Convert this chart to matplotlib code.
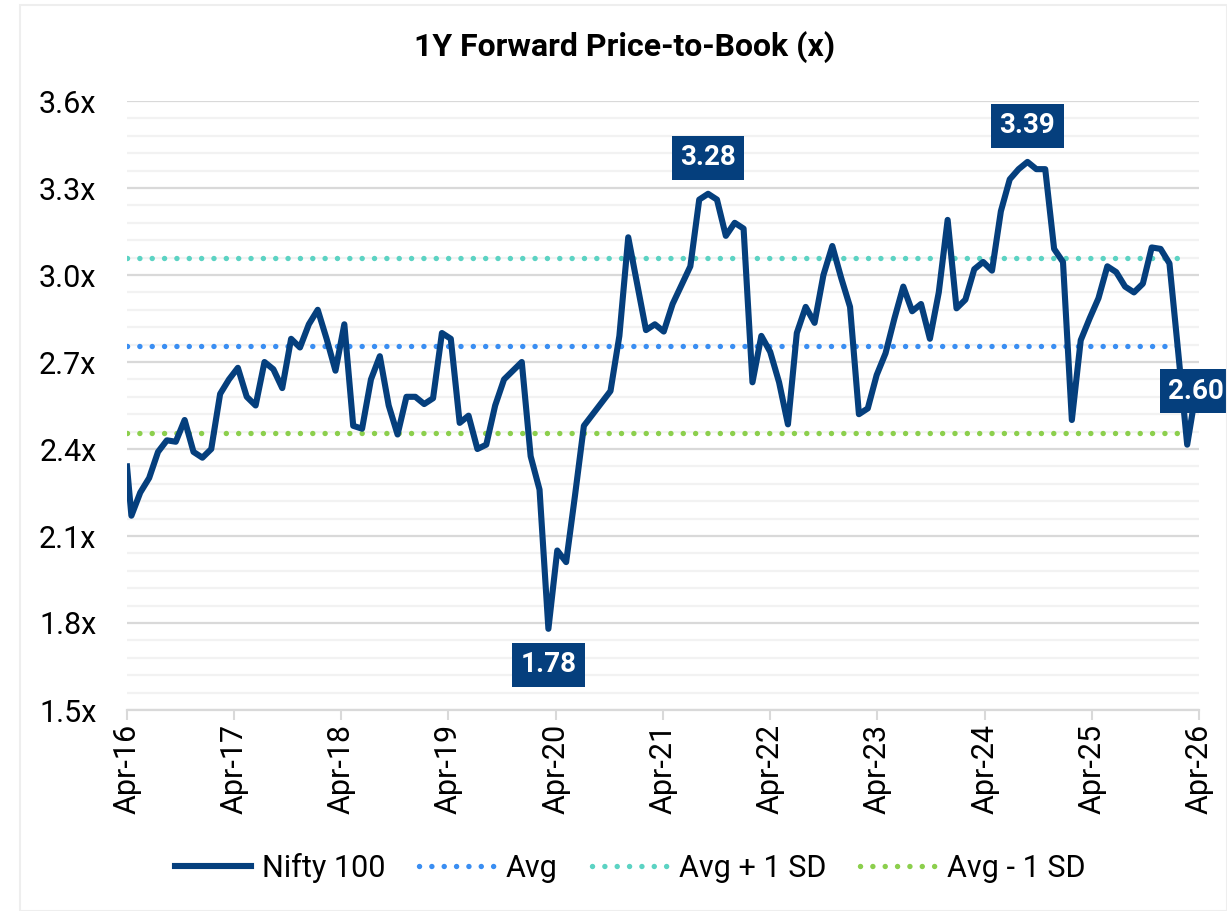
import numpy as np
import pandas as pd
import matplotlib
matplotlib.use("Agg")
import matplotlib.pyplot as plt
import matplotlib.dates as mdates
from matplotlib.patches import Rectangle

plt.rcParams['font.family'] = ['Roboto', 'DejaVu Sans']

# 1Y forward P/B for Nifty 100: an opening print on 1-Apr-16, then monthly
dates = pd.DatetimeIndex(['2016-04-01']).append(
    pd.date_range('2016-04-16', '2026-03-22', periods=121))
nifty100 = [
    2.34, 2.17, 2.25, 2.30, 2.39, 2.43, 2.425, 2.50, 2.39, 2.37, 2.40, 2.59,
    2.64, 2.68, 2.58, 2.55, 2.70, 2.675, 2.61, 2.78, 2.75, 2.83, 2.88, 2.78,
    2.67, 2.83, 2.48, 2.47, 2.64, 2.72, 2.55, 2.45, 2.58, 2.58, 2.555, 2.575,
    2.80, 2.78, 2.49, 2.515, 2.40, 2.415, 2.55, 2.64, 2.67, 2.70, 2.375, 2.26,
    1.78, 2.05, 2.01, 2.24, 2.48, 2.52, 2.56, 2.60, 2.79, 3.13, 2.97, 2.81,
    2.83, 2.805, 2.90, 2.965, 3.03, 3.26, 3.28, 3.26, 3.135, 3.18, 3.16, 2.63,
    2.79, 2.735, 2.63, 2.485, 2.80, 2.89, 2.835, 3.00, 3.10, 2.99, 2.89, 2.52,
    2.54, 2.655, 2.73, 2.85, 2.96, 2.875, 2.90, 2.78, 2.94, 3.19, 2.885, 2.915,
    3.02, 3.045, 3.015, 3.22, 3.33, 3.365, 3.39, 3.365, 3.365, 3.09, 3.045, 2.50,
    2.775, 2.85, 2.92, 3.03, 3.01, 2.96, 2.94, 2.97, 3.095, 3.09, 3.04, 2.73,
    2.415, 2.60,
]
avg = 2.755
avg_plus = 3.06
avg_minus = 2.455

# highlighted values: (index into series, text, where the box sits)
callouts = [(48, '1.78', 'below'), (66, '3.28', 'above'), (102, '3.39', 'above'), (121, '2.60', 'on')]

navy = '#053f7d'

fig = plt.figure(figsize=(12.27, 9.11), dpi=100)
fig.patches.append(Rectangle((20 / 1227, 0), 1 - 20 / 1227, 1 - 5 / 911, transform=fig.transFigure,
                             fill=False, edgecolor='#eeeeee', linewidth=1.5))
ax = fig.add_axes([127 / 1227, 1 - 710 / 911, (1199 - 127) / 1227, (710 - 101) / 911])

# band lines run over the monthly history (they stop short of the last print)
band_dates = dates[:-1]
dot = (0, (0.01, 2.27))
ax.plot(band_dates, np.full(len(band_dates), avg_minus), color='#8ccf4d', lw=3.9, ls=dot,
        dash_capstyle='round', label='Avg - 1 SD', zorder=3)
ax.plot(band_dates, np.full(len(band_dates), avg_plus), color='#5cd3c3', lw=3.9, ls=dot,
        dash_capstyle='round', label='Avg + 1 SD', zorder=3)
ax.plot(band_dates, np.full(len(band_dates), avg), color='#3a8ef2', lw=3.9, ls=dot,
        dash_capstyle='round', label='Avg', zorder=3)
ax.plot(dates, nifty100, color=navy, lw=4.4, solid_joinstyle='round', label='Nifty 100', zorder=4)

for i, txt, pos in callouts:
    off = {'below': -26, 'above': 26, 'on': 0}[pos]
    ax.annotate(txt, (dates[i], nifty100[i]), xytext=(0, off), textcoords='offset points',
                ha='center', va='center', color='white', fontsize=20, fontweight='bold',
                bbox=dict(boxstyle='square,pad=0.3', fc=navy, ec='none'), zorder=6)

ax.set_ylim(1.5, 3.6)
ax.set_yticks(np.arange(1.5, 3.61, 0.3))
ax.set_yticks(np.arange(1.5, 3.61, 0.06), minor=True)
ax.set_yticklabels([f'{v:.1f}x' for v in np.arange(1.5, 3.61, 0.3)])
ax.grid(axis='y', which='major', color='#d9d9d9', lw=1.6, zorder=0)
ax.grid(axis='y', which='minor', color='#f2f2f2', lw=1.6, zorder=0)

ax.set_xlim(pd.Timestamp('2016-04-01'), pd.Timestamp('2026-04-01'))
ax.xaxis.set_major_locator(mdates.MonthLocator(bymonth=4))
ax.xaxis.set_major_formatter(mdates.DateFormatter('%b-%y'))
for lab in ax.get_xticklabels():
    lab.set_rotation(90)

for s in ['top', 'right', 'left']:
    ax.spines[s].set_visible(False)
ax.spines['bottom'].set_color('#d9d9d9')
ax.spines['bottom'].set_linewidth(1.6)
ax.tick_params(axis='y', which='both', length=0, labelsize=22, pad=22)
ax.tick_params(axis='x', length=7, width=1.5, color='#d9d9d9', labelsize=22, pad=3)

fig.text(625 / 1227, 1 - 47 / 911, '1Y Forward Price-to-Book (x)', ha='center', va='center',
         fontsize=23, fontweight='bold')

h, l = ax.get_legend_handles_labels()
order = [3, 2, 1, 0]
fig.legend([h[i] for i in order], [l[i] for i in order], loc='center',
           bbox_to_anchor=(630 / 1227, 1 - 868 / 911), ncol=4, frameon=False, fontsize=22,
           handlelength=2.5, handletextpad=0.35, columnspacing=1.1)

fig.savefig('out.png', dpi=100)
